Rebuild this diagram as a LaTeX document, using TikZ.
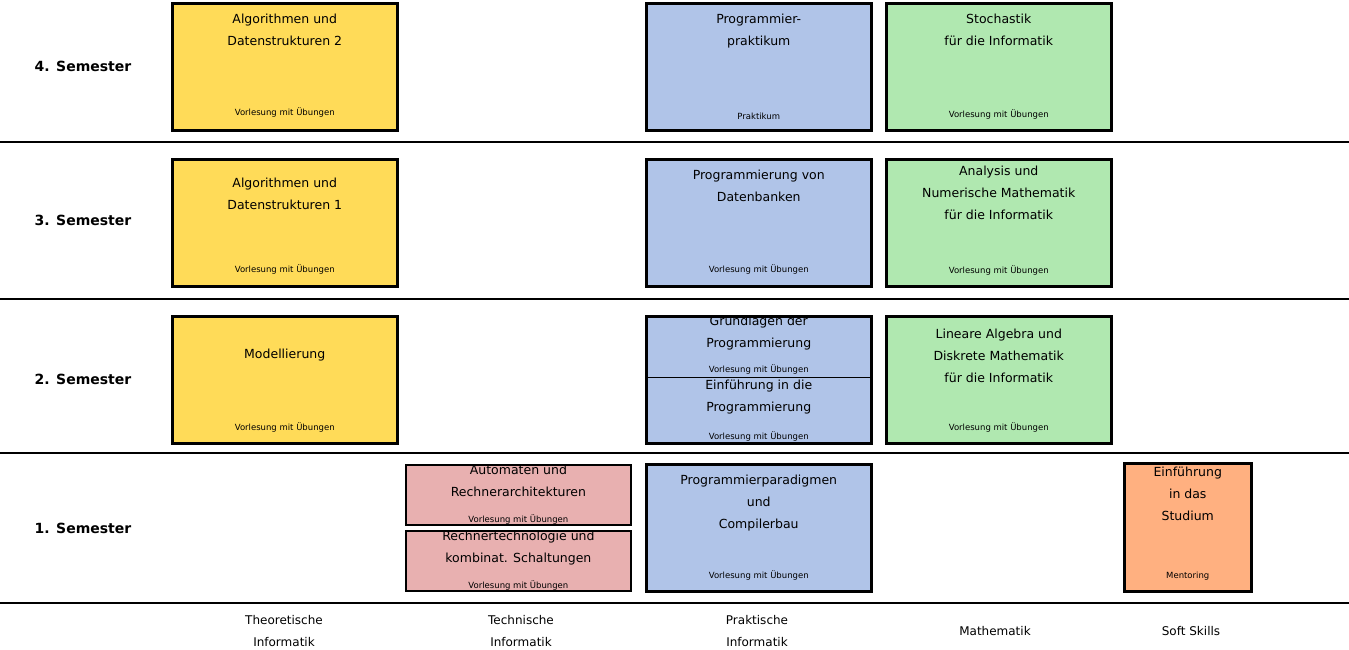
\documentclass[tikz,border=0pt]{standalone}
\usepackage{fontspec}
\setmainfont{DejaVu Sans}
\usetikzlibrary{positioning}
\definecolor{theo}{RGB}{255,219,88}
\definecolor{prak}{RGB}{176,196,232}
\definecolor{mathe}{RGB}{176,232,176}
\definecolor{tech}{RGB}{232,176,176}
\definecolor{soft}{RGB}{255,176,128}
\tikzset{
  box/.style={draw, line width=2.5pt, anchor=north west, minimum width=225pt, minimum height=127pt, inner sep=0pt},
  techbox/.style={box, line width=1.8pt, minimum height=60pt},
  title/.style={anchor=north, align=center, font=\fontsize{12.5}{22}\selectfont, inner sep=0pt},
  sub/.style={anchor=south, font=\fontsize{8.5}{10}\selectfont, inner sep=0pt},
  sem/.style={font=\fontsize{14}{16}\selectfont\bfseries},
  area/.style={align=center, font=\fontsize{12}{22}\selectfont}
}
\begin{document}
\begin{tikzpicture}[x=1pt,y=-1pt]
  \useasboundingbox (0,0) rectangle (1349,649);

  % row separators
  \foreach \y in {142,299,453,603}
    \draw [line width=1.3pt] (0,\y) -- (1349,\y);

  % semester labels
  \node [sem] (s4) at (83,66) {4. Semester};
  \node [sem] (s3) at (83,220) {3. Semester};
  \node [sem] (s2) at (83,379) {2. Semester};
  \node [sem] (s1) at (83,528) {1. Semester};

  % 4. Semester
  \node [box, fill=theo] (aud2) at (171,2) {};
  \node [title] at ([yshift=-12pt]aud2.north) {Algorithmen und\\Datenstrukturen 2};
  \node [sub] at ([yshift=14pt]aud2.south) {Vorlesung mit Übungen};
  \node [box, fill=prak] (pprak) at (645,2) {};
  \node [title] at ([yshift=-12pt]pprak.north) {Programmier-\\praktikum};
  \node [sub] at ([yshift=12pt]pprak.south) {Praktikum};
  \node [box, fill=mathe] (stoch) at (885,2) {};
  \node [title] at ([yshift=-12pt]stoch.north) {Stochastik\\für die Informatik};
  \node [sub] at ([yshift=12pt]stoch.south) {Vorlesung mit Übungen};

  % 3. Semester
  \node [box, fill=theo] (aud1) at (171,158) {};
  \node [title] at ([yshift=-20pt]aud1.north) {Algorithmen und\\Datenstrukturen 1};
  \node [sub] at ([yshift=13pt]aud1.south) {Vorlesung mit Übungen};
  \node [box, fill=prak] (pdb) at (645,158) {};
  \node [title] at ([yshift=-12pt]pdb.north) {Programmierung von\\Datenbanken};
  \node [sub] at ([yshift=13pt]pdb.south) {Vorlesung mit Übungen};
  \node [box, fill=mathe] (ana) at (885,158) {};
  \node [title] at ([yshift=-8pt]ana.north) {Analysis und\\Numerische Mathematik\\für die Informatik};
  \node [sub] at ([yshift=12pt]ana.south) {Vorlesung mit Übungen};

  % 2. Semester
  \node [box, fill=theo] (mod) at (171,315) {};
  \node [title] at ([yshift=-34pt]mod.north) {Modellierung};
  \node [sub] at ([yshift=12pt]mod.south) {Vorlesung mit Übungen};
  \node [box, fill=prak] (gdp) at (645,315) {};
  \draw [line width=1pt] (gdp.west |- 0,377) -- (gdp.east |- 0,377);
  \node [title] at ([yshift=-1pt]gdp.north) {Grundlagen der\\Programmierung};
  \node [sub] at ([yshift=-59pt]gdp.north) {Vorlesung mit Übungen};
  \node [title] at ([yshift=-65pt]gdp.north) {Einführung in die\\Programmierung};
  \node [sub] at ([yshift=3pt]gdp.south) {Vorlesung mit Übungen};
  \node [box, fill=mathe] (la) at (885,315) {};
  \node [title] at ([yshift=-14pt]la.north) {Lineare Algebra und\\Diskrete Mathematik\\für die Informatik};
  \node [sub] at ([yshift=12pt]la.south) {Vorlesung mit Übungen};

  % 1. Semester
  \node [techbox, fill=tech] (ara) at (405,464) {};
  \node [title] at ([yshift=-1pt]ara.north) {Automaten und\\Rechnerarchitekturen};
  \node [sub] at ([yshift=1pt]ara.south) {Vorlesung mit Übungen};
  \node [techbox, fill=tech] (rks) at (405,530) {};
  \node [title] at ([yshift=-1pt]rks.north) {Rechnertechnologie und\\kombinat. Schaltungen};
  \node [sub] at ([yshift=1pt]rks.south) {Vorlesung mit Übungen};
  \node [box, fill=prak] (ppc) at (645,463) {};
  \node [title] at ([yshift=-12pt]ppc.north) {Programmierparadigmen\\und\\Compilerbau};
  \node [sub] at ([yshift=12pt]ppc.south) {Vorlesung mit Übungen};
  \node [box, fill=soft, minimum width=127pt, minimum height=128pt] (eids) at (1123,462) {};
  \node [title] at ([yshift=-5pt]eids.north) {Einführung\\in das\\Studium};
  \node [sub] at ([yshift=12pt]eids.south) {Mentoring};

  % areas
  \node [area] (ti) at (284,631) {Theoretische\\Informatik};
  \node [area] (tei) at (521,631) {Technische\\Informatik};
  \node [area] (pi) at (757,631) {Praktische\\Informatik};
  \node [area] (ma) at (995,631) {Mathematik};
  \node [area] (ss) at (1191,631) {Soft Skills};
\end{tikzpicture}
\end{document}
